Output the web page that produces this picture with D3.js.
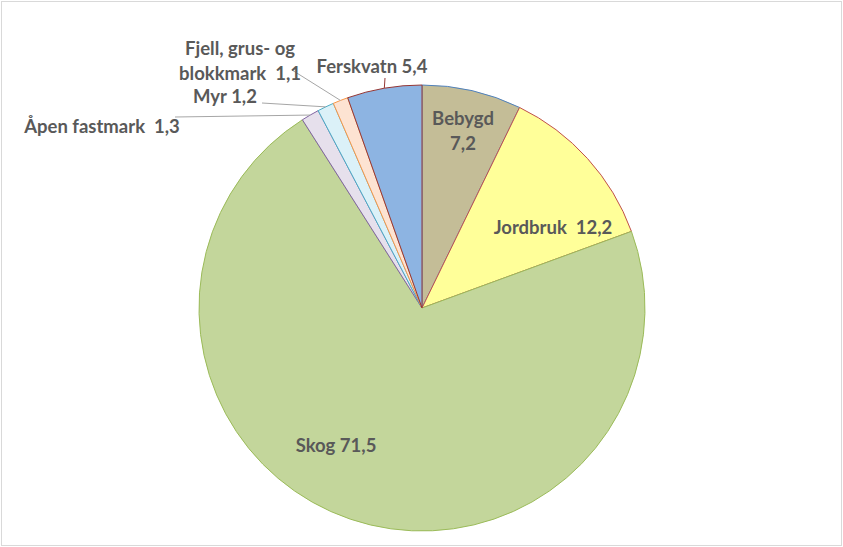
<!DOCTYPE html>
<html><head><meta charset="utf-8">
<script src="https://cdn.jsdelivr.net/npm/d3@7"></script>
<style>body{margin:0;background:#fff}svg{display:block}</style>
</head><body>
<svg id="c" width="843" height="547"></svg>
<script>
const categories = ["Bebygd","Jordbruk","Skog","Åpen fastmark","Myr","Fjell, grus- og blokkmark","Ferskvatn"];
const values = [7.2, 12.2, 71.5, 1.3, 1.2, 1.1, 5.4];
const valueLabels = ["7,2","12,2","71,5","1,3","1,2","1,1","5,4"];
const fills = ["#C4BD97","#FFFF99","#C3D69B","#E6E0EC","#DBF1F8","#FDE3D2","#8DB4E2"];
const strokes = ["#4F81BD","#C0504D","#9BBB59","#8064A2","#4BACC6","#F79646","#953735"];
// label layout: lines of text, text centre x / first baseline (relative to pie centre), leader start (or null)
const labelLayout = [
  {lines:["Bebygd","7,2"], x:41, y:-183, lead:null},
  {lines:["Jordbruk  12,2"], x:131, y:-74, lead:null},
  {lines:["Skog 71,5"], x:-86, y:144, lead:null},
  {lines:["Åpen fastmark  1,3"], x:-320, y:-175, lead:[-247,-191]},
  {lines:["Myr 1,2"], x:-197, y:-205, lead:[-160,-205]},
  {lines:["Fjell, grus- og","blokkmark  1,1"], x:-182, y:-253, lead:[-130,-238]},
  {lines:["Ferskvatn 5,4"], x:-50, y:-235, lead:[-37,-230]}
];
const cx = 422, cy = 308, R = 223;
const svg = d3.select("#c");
svg.append("rect").attr("x",1.5).attr("y",1.5).attr("width",840).attr("height",544)
  .attr("fill","#fff").attr("stroke","#D9D9D9").attr("stroke-width",1);
const g = svg.append("g").attr("transform",`translate(${cx},${cy})`);
const pie = d3.pie().sort(null).value(d=>d)(values);
const arc = d3.arc().innerRadius(0).outerRadius(R);
g.selectAll("path.slice").data(pie).join("path")
  .attr("class","slice")
  .attr("d",arc)
  .attr("fill",(d,i)=>fills[i])
  .attr("stroke",(d,i)=>strokes[i])
  .attr("stroke-width",1)
  .attr("stroke-linejoin","round");
// leader lines
pie.forEach((d,i)=>{
  const L = labelLayout[i];
  if(!L.lead) return;
  const a = (d.startAngle+d.endAngle)/2;
  g.append("line")
    .attr("x1",L.lead[0]).attr("y1",L.lead[1])
    .attr("x2",R*Math.sin(a)).attr("y2",-R*Math.cos(a))
    .attr("stroke", i===6 ? "#953735" : "#A6A6A6").attr("stroke-width",1);
});
// labels
labelLayout.forEach((L,i)=>{
  const t = g.append("text")
    .attr("text-anchor","middle")
    .attr("font-family","Lato, 'Open Sans', sans-serif")
    .attr("font-weight","bold")
    .attr("font-size",18.5)
    .attr("fill","#595959")
    .attr("xml:space","preserve");
  L.lines.forEach((s,j)=>{
    t.append("tspan").attr("x",L.x).attr("y",L.y + j*25).text(s).style("white-space","pre");
  });
});
</script>
</body></html>
